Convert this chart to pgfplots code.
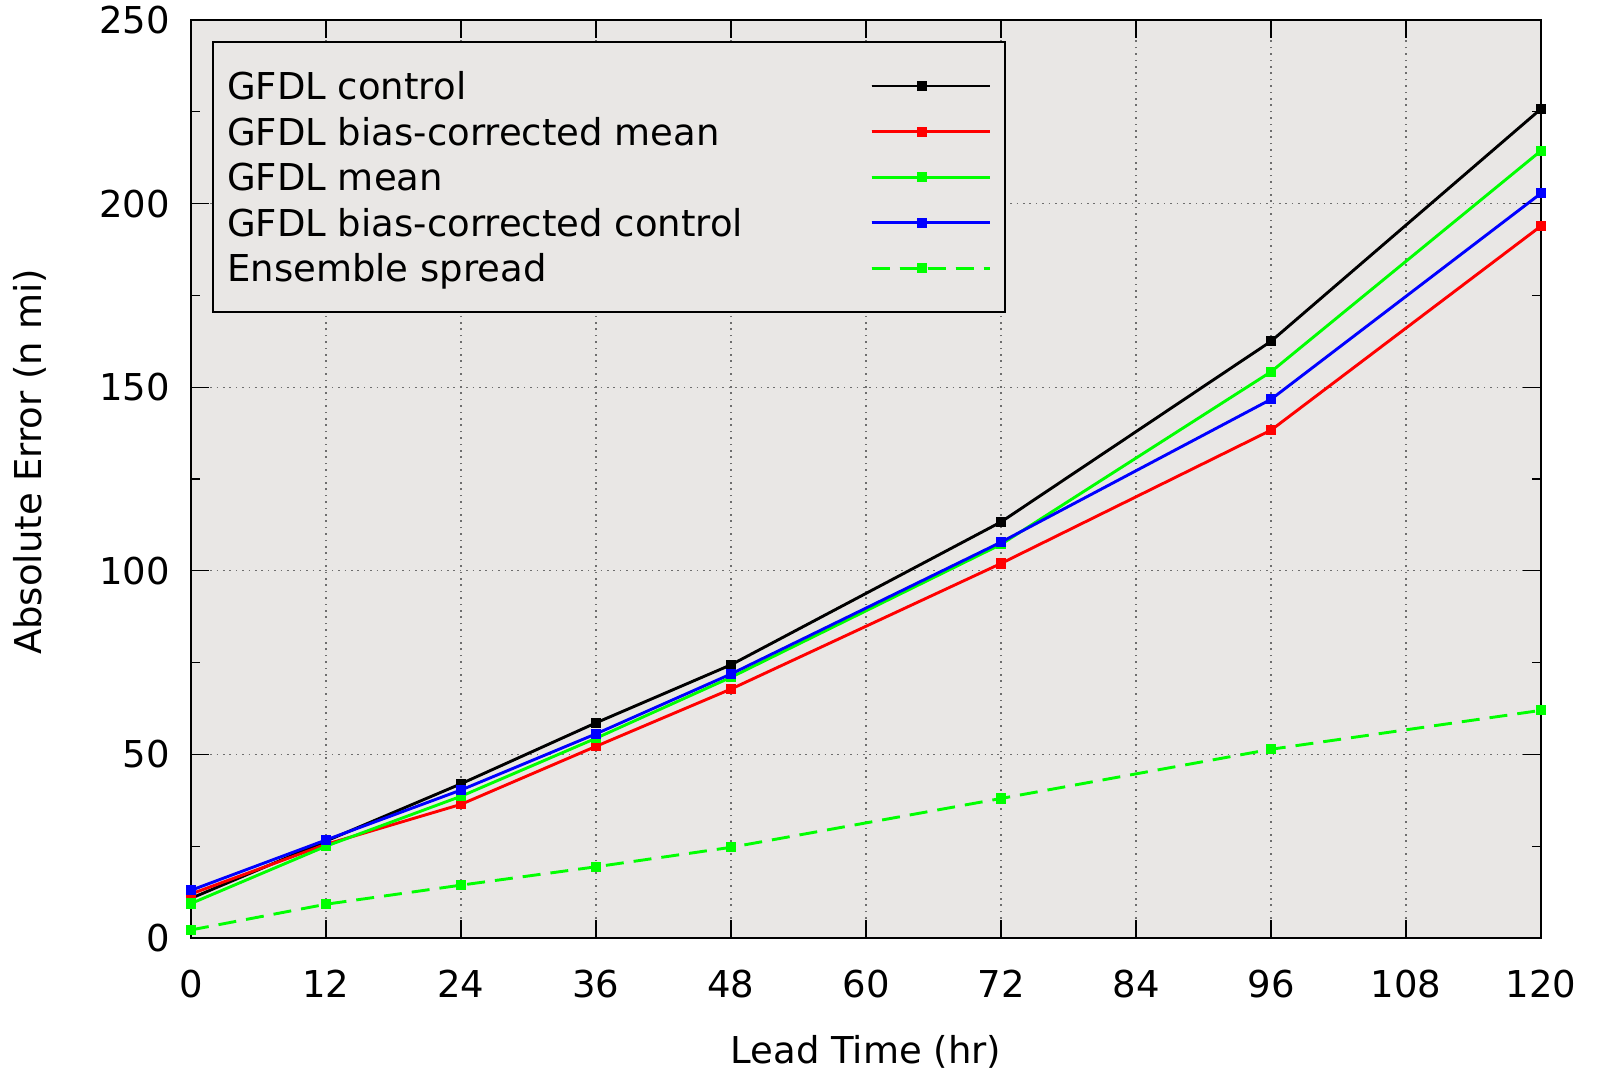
\documentclass[border=0pt]{standalone}
\usepackage{fontspec}
\setmainfont{DejaVu Sans}
\usepackage{pgfplots}
\pgfplotsset{compat=1.18}
\definecolor{bg}{RGB}{233,231,229}
\definecolor{gridc}{RGB}{110,110,110}
\newcommand\F{\fontsize{18.5pt}{22pt}\selectfont}
\newcommand\LE[1]{\rule[-4.65pt]{0pt}{22.8pt}\makebox[321.5pt][l]{#1}}
\begin{document}
\begin{tikzpicture}
\begin{axis}[
  scale only axis, width=675pt, height=459pt,
  xmin=0, xmax=120, ymin=0, ymax=250,
  xtick={0,12,...,120}, ytick={0,50,...,250},
  minor y tick num=1,
  tick align=inside,
  major tick length=9pt, minor tick length=4.5pt,
  grid=major,
  major grid style={gridc, dash pattern=on 0.8pt off 2.4pt, line width=0.6pt},
  axis background/.style={fill=bg},
  axis line style={line width=0.6pt},
  every tick/.style={black, line width=0.6pt},
  tick label style={font=\F},
  /pgf/number format/assume math mode=true,
  yticklabel style={xshift=-7pt},
  xticklabel style={yshift=-12.7pt},
  xlabel={Lead Time (hr)}, ylabel={Absolute Error (n mi)},
  label style={font=\F},
  xlabel style={at={(rel axis cs:0.5,0)}, anchor=base, yshift=-62.5pt},
  ylabel style={at={(rel axis cs:-0.1193,0.5185)}, anchor=center},
  clip=false,
  legend plot pos=right,
  legend cell align=left,
  legend style={at={(rel axis cs:0,1)}, anchor=north west, xshift=10.5pt, yshift=-10.5pt,
    fill=bg, draw=black, line width=1.2pt, inner xsep=7pt, inner ysep=10.5pt,
    font=\F, row sep=0pt, column sep=0pt, nodes={inner sep=0pt, text depth=4.65pt}},
  legend image code/.code={\path (0pt,0pt) -- (59pt,0pt);
    \draw[mark repeat=2,mark phase=2] plot coordinates {(0pt,0pt) (25pt,0pt) (50pt,0pt)};},
  every axis plot/.append style={line width=1.45pt, mark=square*, mark size=1.8pt, mark options={solid}},
]
\addplot[black] coordinates {(0,10.8)(12,26.4)(24,42)(36,58.6)(48,74.4)(72,113.3)(96,162.5)(120,225.8)};
\addlegendentry{\LE{GFDL control}}
\addplot[red] coordinates {(0,12)(12,25.5)(24,36.4)(36,52.2)(48,67.8)(72,102)(96,138.3)(120,193.9)};
\addlegendentry{\LE{GFDL bias-corrected mean}}
\addplot[green] coordinates {(0,9.4)(12,25)(24,38.6)(36,54.4)(48,71)(72,107.2)(96,154.2)(120,214.4)};
\addlegendentry{\LE{GFDL mean}}
\addplot[blue] coordinates {(0,13)(12,26.7)(24,40.3)(36,55.6)(48,71.9)(72,107.8)(96,146.7)(120,202.8)};
\addlegendentry{\LE{GFDL bias-corrected control}}
\addplot[green, dash pattern=on 9pt off 5pt] coordinates {(0,2.2)(12,9.2)(24,14.4)(36,19.4)(48,24.7)(72,38)(96,51.4)(120,62)};
\addlegendentry{\LE{Ensemble spread}}
\coordinate (SW) at (rel axis cs:0,0);
\coordinate (NE) at (rel axis cs:1,1);
\end{axis}
\pgfresetboundingbox
\path ([shift={(-95.5pt,-67.5pt)}]SW) rectangle ([shift={(29pt,10pt)}]NE);
\end{tikzpicture}
\end{document}
